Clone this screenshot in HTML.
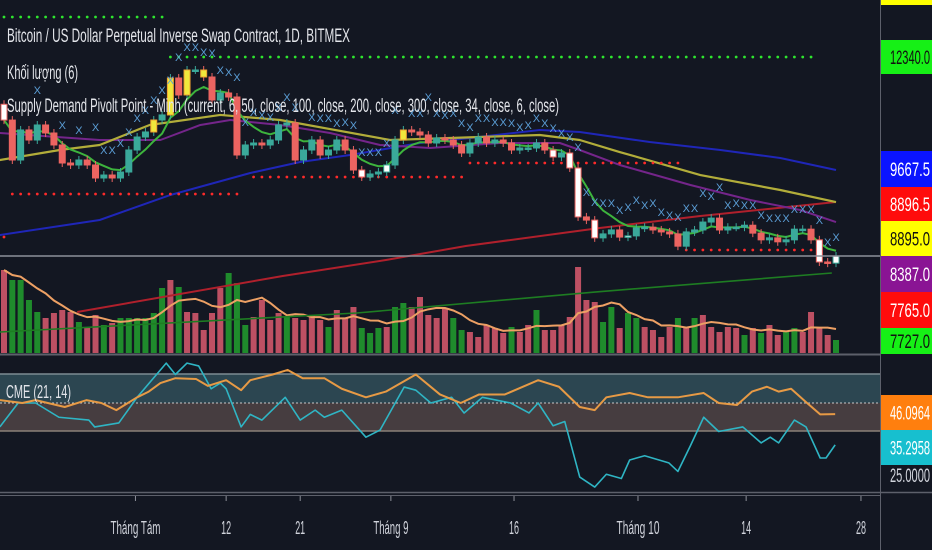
<!DOCTYPE html>
<html><head><meta charset="utf-8">
<style>
html,body{margin:0;padding:0;background:#131722;}
svg{display:block;font-family:"Liberation Sans",sans-serif;}
</style></head>
<body>
<svg id="chart" width="932" height="550" viewBox="0 0 932 550">
<rect x="0" y="0" width="932" height="550" fill="#131722"/>
<defs><clipPath id="mainClip"><rect x="0" y="0" width="880" height="354"/></clipPath>
<clipPath id="cmeClip"><rect x="0" y="356" width="880" height="136"/></clipPath></defs>
<rect x="0" y="374" width="880" height="29" fill="#2c4651"/>
<rect x="0" y="403" width="880" height="28" fill="#463d40"/>
<line x1="0" y1="374" x2="880" y2="374" stroke="#7d8c92" stroke-width="1.5"/>
<line x1="0" y1="431" x2="880" y2="431" stroke="#8a8078" stroke-width="1.5"/>
<line x1="0" y1="403" x2="880" y2="403" stroke="#c8c8c8" stroke-width="1" stroke-dasharray="2 2"/>
<g id="vol" clip-path="url(#mainClip)"></g>
<g id="main" clip-path="url(#mainClip)"></g>
<g id="cme" clip-path="url(#cmeClip)"></g>
<line x1="0" y1="354.5" x2="880" y2="354.5" stroke="#5d606b" stroke-width="2"/>
<line x1="0" y1="492.5" x2="932" y2="492.5" stroke="#5d606b" stroke-width="1.5"/>
<line x1="0" y1="495.5" x2="880" y2="495.5" stroke="#5d606b" stroke-width="1"/>
<line x1="880.5" y1="0" x2="880.5" y2="550" stroke="#5d606b" stroke-width="1"/>
<g id="axis"></g>
<g id="time"></g>
<text x="7" y="42" font-size="19" fill="#e3e5ea" textLength="343" lengthAdjust="spacingAndGlyphs">Bitcoin / US Dollar Perpetual Inverse Swap Contract, 1D, BITMEX</text>
<text x="7" y="79" font-size="19" fill="#e3e5ea" textLength="71" lengthAdjust="spacingAndGlyphs">Khối lượng (6)</text>
<text x="7" y="112" font-size="19" fill="#e3e5ea" textLength="552" lengthAdjust="spacingAndGlyphs">Supply Demand Pivolt Point - Minh (current, 6, 50, close, 100, close, 200, close, 300, close, 34, close, 6, close)</text>
<text x="6" y="398" font-size="18" fill="#e3e5ea" textLength="65" lengthAdjust="spacingAndGlyphs">CME (21, 14)</text>
</svg>
<script>
const closes=[10810,9800,10560,10306,10686,10483,10180,9724,9674,9800,9674,9345,9420,9345,9496,10053,10382,10509,10812,10940,11875,11445,12077,12077,11900,11318,11495,11394,9927,10180,10230,10180,10306,10686,10736,9800,10053,10306,9927,10053,10306,10053,9547,9370,9446,9496,9674,10306,10559,10509,10433,10230,10357,10306,10180,9977,10230,10382,10230,10306,10230,10053,10104,10104,10230,10053,9876,9977,9598,8360,8280,7830,7930,8030,7850,7880,8080,8100,8030,7980,7930,7620,7980,8030,8230,8330,8030,8100,8100,8150,7950,7780,7830,7730,7780,8050,8050,7780,7220,7190,7370];
const volumes=[830,730,730,530,410,350,400,430,410,310,250,380,280,300,350,350,350,350,400,650,730,660,410,400,230,400,650,800,700,280,360,530,330,400,360,350,330,380,330,260,430,350,460,250,200,250,260,460,500,460,560,380,350,450,350,230,210,160,280,250,200,260,210,280,430,230,230,280,360,860,530,510,310,460,250,400,350,260,230,160,260,350,260,350,380,260,210,260,250,180,250,200,280,180,210,250,210,410,260,180,130];
const volUp=[0,1,1,1,1,0,0,0,0,1,0,0,1,0,1,1,1,1,1,1,0,1,0,0,0,0,0,1,1,1,0,0,0,0,1,0,0,0,0,1,0,0,0,1,1,1,0,1,1,0,0,0,0,0,1,1,0,0,0,0,0,1,0,0,1,0,0,0,0,0,0,0,1,1,0,1,1,0,0,0,0,1,0,1,0,0,0,0,0,1,0,1,0,0,1,1,0,0,0,0,1];
const yellowIdx=[18,20,22,24,48];
const whiteIdx=[0,43,46,66,68,69,71,75,98,100];
const yellowMaDays=[-0.5,6.7,11.5,17.5,26,33.2,46.4,53.6,64.4,69.2,74,83.7,93.3,100];
const yellowMaVals=[9800,10053,10180,10686,10940,10812,10306,10357,10433,10306,10002,9420,9041,8737];
const purpleMaDays=[-0.5,11.5,18.8,23.6,27.2,33.2,39.2,45.2,51.2,59.6,66.8,69.2,74,82.5,89.7,95.7,100];
const purpleMaVals=[10483,10306,10306,10686,10812,10686,10483,10180,10104,10230,10230,10053,9674,9168,8788,8535,8231];
const blueMaDays=[-0.5,11.5,20,29.6,35.6,41.6,50,56,64.4,69.2,77.6,86.1,93.3,100];
const blueMaVals=[7903,8282,8915,9471,9750,9927,10230,10357,10559,10509,10255,10053,9851,9547];
const redMaDays=[8.8,33.5,45.9,55.5,71.6,83.7,100];
const redMaVals=[5955,6865,7270,7624,8080,8383,8737];
const greenMaDays=[-0.5,42.4,71,99.5];
const greenMaVals=[5448,5929,6460,6941];
const markIdx=[4,7,9,11,12,13,14,15,16,17,18,19,20,21,22,23,24,25,26,27,28,29,30,31,32,33,34,35,37,38,39,40,41,42,43,44,45,46,47,49,50,51,52,53,54,55,56,57,58,59,60,61,62,63,64,65,66,67,68,69,70,71,72,73,74,75,76,77,78,79,80,81,82,83,84,85,86,87,88,89,90,91,92,93,94,95,96,97,98,99,100];
const markPrices=[11570,10685,10560,10635,10050,10050,10230,10510,10860,11065,11320,11570,11825,12405,12660,12660,12530,12510,12080,12025,11900,10760,11015,10940,10890,11140,11395,11140,10890,10860,10860,10735,10760,10685,10000,10000,10000,10230,11065,10990,10990,11395,10990,10940,10990,10735,10635,10860,10860,10760,10760,10735,10635,10685,10860,10735,10610,10485,10380,10130,8990,8740,8710,8710,8535,8610,8790,8660,8710,8485,8410,8360,8585,8585,8965,8890,9115,8660,8710,8660,8660,8410,8330,8330,8330,8560,8560,8560,8280,7725,7850];
const levelStart=[0,20,1,29.5,55.5,82,0];
const levelEnd=[19.7,97,28.7,55.5,81,97,0];
const levelPrice=[13418,12406,8940,9370,9724,7523,7852];
const levelColor=['#2ee62e','#2ee62e','#ff2a2a','#ff2a2a','#ff2a2a','#ff2a2a','#ff2a2a'];
const cyanDays=[-0.5,1.7,3.8,6.6,10.2,10.9,13.8,16,19.5,20.6,22,23.4,24.9,26,26.7,28.5,29.6,31,33.8,35.6,37.4,38.5,40.6,43.5,45.2,48.1,49.5,51.3,53.8,55.3,57.5,60.9,63.1,64.2,66,67.4,69.2,71,72.4,74.2,75.2,77,79.9,81,82.5,84.1,85.9,88.8,91,92.1,93.1,95,96.4,98.1,98.8,99.9];
const cyanVals=[41.6,50,50,45,44,41.6,43,52,64,60,64,63,55,57,55,41.6,46,44,52,44,47.5,45,47.5,38,40.5,55.6,54.5,50,52,46.5,52,50,46.5,50,42,43.5,24,20.5,25,23.5,30,31.5,29,26,35,45,40,41.6,36,38,36,44,41.6,30.7,30.7,35.3];
const orangeDays=[-0.5,2.2,3.8,7.3,9.9,11.7,13.5,16,17.4,18.8,20.6,23.1,24.5,26.7,28.5,29.6,32.3,34.1,35.9,38.5,40.6,43.5,45.9,49.5,52.4,54.9,57.1,60.2,64.2,66.7,69.2,71,72.4,75.2,77.4,81,84.1,85.9,88.1,89.9,91.7,93.1,94.6,96.4,98.1,99.9];
const orangeVals=[51,50,51,48.6,51,50,47.5,52,54,57,58.7,58.4,56,58,54.5,58,60,61.6,58.7,58.7,55,52,54,60,53,50,53,53,58,55.7,48.6,47.5,52,53.5,52,52,53.5,50,49.3,54,55.7,54,55,50.3,46,46.1];
const tickLabels=['Tháng Tám','12','21','Tháng 9','16','Tháng 10','14','28'];
const tickIdx=[15.8,26.7,35.6,46.5,61.3,76.2,89.2,103];

const NS='http://www.w3.org/2000/svg';
function mk(tag,attrs,parent){const e=document.createElementNS(NS,tag);for(const k in attrs)e.setAttribute(k,attrs[k]);parent.appendChild(e);return e;}
const xi=i=>4+i*8.32;
const yp=p=>(13848-p)/25.3;
const yv=v=>353-v/10;
const yc=v=>403-(v-50)*2.85;
const main=document.getElementById('main'),vol=document.getElementById('vol'),cme=document.getElementById('cme'),axis=document.getElementById('axis'),time=document.getElementById('time');

volumes.forEach((v,i)=>{
  const r=mk('rect',{x:xi(i)-3,y:yv(v),width:6,height:353-yv(v),fill:volUp[i]?'#1f8b2c':'#bd5063'},vol);
  
  
});
let vpts=[];
volumes.forEach((v,i)=>{const s=volumes.slice(Math.max(0,i-5),i+1);const m=s.reduce((a,b)=>a+b,0)/s.length;vpts.push(xi(i)+','+yv(m));});
const vma=mk('polyline',{points:vpts.join(' '),fill:'none',stroke:'#eda064','stroke-width':2},vol);



function knotLine(days,vals,yf,color,w,parent,name){
  const pts=days.map((d,k)=>xi(d)+','+yf(vals[k])).join(' ');
  const l=mk('polyline',{points:pts,fill:'none',stroke:color,'stroke-width':w,'stroke-linejoin':'round'},parent);
  
  
}
knotLine(greenMaDays,greenMaVals,yp,'#1e7d22',1.6,main,'ma-300-line');
knotLine(redMaDays,redMaVals,yp,'#b0202c',2,main,'ma-200-line');
knotLine(blueMaDays,blueMaVals,yp,'#1f26b8',2,main,'ma-100-line');
knotLine(purpleMaDays,purpleMaVals,yp,'#74258a',2,main,'ma-50-line');
knotLine(yellowMaDays,yellowMaVals,yp,'#b2ad3a',2.2,main,'ma-34-line');

levelPrice.forEach((p,k)=>{
  for(let i=Math.ceil(levelStart[k]);i<=levelEnd[k];i++){
    const c=mk('circle',{cx:xi(i),cy:yp(p),r:1.4,fill:levelColor[k]},main);
    
    
  }
});

let ema=closes[0],epts=[];
closes.forEach((c,i)=>{ema=ema+(c-ema)*2/7;epts.push(xi(i)+','+yp(ema));});
const el=mk('polyline',{points:epts.join(' '),fill:'none',stroke:'#3db43d','stroke-width':2},main);



closes.forEach((c,i)=>{
  const o=i>0?closes[i-1]:c+400;
  const up=c>=o;
  let fill=up?'#3aa99a':'#ec6461',stroke=fill;
  if(yellowIdx.includes(i)){fill='#f0e83c';stroke='#f0a030';}
  if(whiteIdx.includes(i)){fill='#ffffff';stroke=up?'#3aa99a':'#ec6461';}
  const top=Math.min(yp(o),yp(c)),bot=Math.max(yp(o),yp(c));
  const w=mk('line',{x1:xi(i),x2:xi(i),y1:top-4,y2:bot+4,stroke:up?'#3aa99a':'#ec6461','stroke-width':1},main);
  
  
  const b=mk('rect',{x:xi(i)-3,y:top,width:6,height:Math.max(1.5,bot-top),fill:fill,stroke:stroke,'stroke-width':1},main);
  
  
});
markIdx.forEach((i,k)=>{
  const t=mk('text',{x:xi(i),y:yp(markPrices[k])+4,'font-size':11,fill:'#5b9ed6','text-anchor':'middle'},main);
  t.textContent='X';
  
  
});
const lp=mk('line',{x1:0,x2:880,y1:yp(closes[closes.length-1]),y2:yp(closes[closes.length-1]),stroke:'#8d9099','stroke-width':1.5},main);



knotLine(cyanDays,cyanVals,yc,'#2fb5c4',1.6,cme,'cme-fast-line');
knotLine(orangeDays,orangeVals,yc,'#e79a45',2,cme,'cme-slow-line');

const boxY=[-30,40,151,187,221,256,292,328,395,430];
const boxH=[35,34,36,34,35,36,36,26,35,35];
const boxFill=['#ffff00','#16f016','#0a14ff','#ff0c0c','#ffff00','#8a1494','#ff0c0c','#16f016','#ff7f0e','#17bfcf'];
const boxText=['','12340.0','9667.5','8896.5','8895.0','8387.0','7765.0','7727.0','46.0964','35.2958'];
const boxTextColor=['#000','#111','#fff','#fff','#111','#fff','#fff','#111','#fff','#fff'];
boxText.forEach((t,k)=>{
  const r=mk('rect',{x:881,y:boxY[k],width:51,height:boxH[k],fill:boxFill[k]},axis);
  
  
  if(t){
    const tx=mk('text',{x:890,y:boxY[k]+boxH[k]/2+7,'font-size':19,fill:boxTextColor[k],textLength:40,lengthAdjust:'spacingAndGlyphs'},axis);
    tx.textContent=t;
    
    
  }
});
const t25=mk('text',{x:890,y:482,'font-size':19,fill:'#d1d4dc',textLength:40,lengthAdjust:'spacingAndGlyphs'},axis);
t25.textContent='25.0000';



const tickW=[50,10,10,35,10,43,10,10];
tickLabels.forEach((lab,k)=>{
  const x=xi(tickIdx[k]);
  const tk=mk('line',{x1:x,x2:x,y1:496,y2:501,stroke:'#8d9099'},time);
  
  
  const t=mk('text',{x:x-tickW[k]/2,y:534,'font-size':18,fill:'#d1d4dc',textLength:tickW[k],lengthAdjust:'spacingAndGlyphs'},time);
  t.textContent=lab;
  
  
});
</script>
</body></html>
